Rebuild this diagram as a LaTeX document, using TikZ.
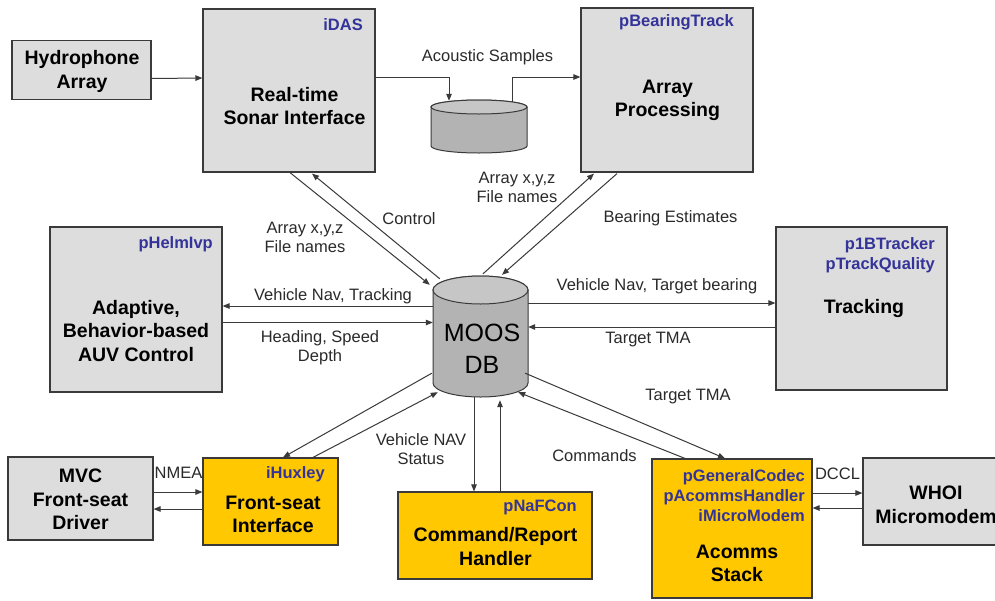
\documentclass[tikz,border=0pt]{standalone}
\usepackage{fontspec}
\setmainfont{Liberation Sans}
\usetikzlibrary{arrows.meta,calc}
\definecolor{boxgray}{HTML}{DDDDDD}
\definecolor{linegray}{HTML}{3A3A3A}
\definecolor{orangefill}{HTML}{FFC800}
\definecolor{tagblue}{HTML}{333399}
\definecolor{lbltext}{HTML}{2A2A2A}
\definecolor{cylbody}{HTML}{B3B3B3}
\definecolor{cyltop}{HTML}{C6C6C6}
\tikzset{
  gbox/.style={draw=linegray, fill=boxgray, line width=1.2pt, inner sep=0pt},
  obox/.style={draw=linegray, fill=orangefill, line width=1.2pt, inner sep=0pt},
  title/.style={font=\fontsize{19.5}{23.5}\selectfont\bfseries, align=center, inner sep=0pt, text=black},
  tag/.style={font=\fontsize{16.5}{20}\selectfont\bfseries, text=tagblue, align=right, anchor=east, inner sep=0pt},
  lbl/.style={font=\fontsize{16.5}{19}\selectfont, text=lbltext, align=center, inner sep=0pt},
  arr/.style={draw=linegray, line width=1pt, -{Triangle[length=7pt,width=5.5pt]}},
  cyl/.style={draw=linegray, line width=1pt},
  anchorbox/.style={inner sep=0pt, draw=none, fill=none}
}
\begin{document}
\begin{tikzpicture}[x=1pt,y=-1pt]
\useasboundingbox (0,0) rectangle (995,600);
\clip (0,0) rectangle (995,600);
\fill[white] (0,0) rectangle (995,600);

% boxes
\node[gbox, minimum width=139, minimum height=59] (hyd) at (81.5,70) {};
\node[title] (hydt) at (82,71.5) {Hydrophone\\Array};

\node[gbox, minimum width=172, minimum height=163] (idas) at (289,90.5) {};
\node[tag] (idastag) at (363,25) {iDAS};
\node[title] (idast) at (294.5,106) {Real-time\\Sonar Interface};

\node[gbox, minimum width=172, minimum height=164] (bear) at (667,90) {};
\node[tag] (beartag) at (734,22) {pBearingTrack};
\node[title] (beart) at (667.5,100.5) {Array\\Processing};

\node[gbox, minimum width=172, minimum height=165] (helm) at (136,309.5) {};
\node[tag] (helmtag) at (213,244) {pHelmIvp};
\node[title] (helmt) at (136,331) {Adaptive,\\Behavior-based\\AUV Control};

\node[gbox, minimum width=171, minimum height=163] (trk) at (861.5,308.5) {};
\node[tag] (trktag) at (935,255) {p1BTracker\\pTrackQuality};
\node[title] (trkt) at (864,308) {Tracking};

\node[gbox, minimum width=145, minimum height=83] (mvc) at (80.5,498.5) {};
\node[title] (mvct) at (80.5,499.5) {MVC\\Front-seat\\Driver};

\node[obox, minimum width=135, minimum height=87] (hux) at (270.5,501.5) {};
\node[tag] (huxtag) at (325,474) {iHuxley};
\node[title] (huxt) at (273,514.5) {Front-seat\\Interface};

\node[obox, minimum width=194, minimum height=87] (naf) at (495,535.5) {};
\node[tag] (naftag) at (577,507) {pNaFCon};
\node[title] (naft) at (495.5,546.5) {Command/Report\\Handler};

\node[obox, minimum width=160, minimum height=139] (ac) at (732,528.5) {};
\node[tag] (actag) at (805,496) {pGeneralCodec\\pAcommsHandler\\iMicroModem};
\node[title] (act) at (737,563.5) {Acomms\\Stack};

\node[gbox, minimum width=150, minimum height=87] (whoi) at (938,501.5) {};
\node[title] (whoit) at (936,505) {WHOI\\Micromodem};

% small disk (acoustic samples store)
\path[cyl, fill=cylbody] (431,107) -- (431,146)
  arc[start angle=180, end angle=360, x radius=48pt, y radius=7pt] -- (527,107)
  arc[start angle=0, end angle=180, x radius=48pt, y radius=7pt] -- cycle;
\path[cyl, fill=cyltop] (479,107) ellipse[x radius=48pt, y radius=7pt];
\node[anchorbox, minimum width=96, minimum height=52] (disk) at (479,127) {};

% MOOS DB cylinder
\path[cyl, fill=cylbody] (433,290) -- (433,383)
  arc[start angle=180, end angle=360, x radius=47.5pt, y radius=14pt] -- (528,290)
  arc[start angle=0, end angle=180, x radius=47.5pt, y radius=14pt] -- cycle;
\path[cyl, fill=cyltop] (480.5,290) ellipse[x radius=47.5pt, y radius=14pt];
\node[anchorbox, minimum width=95, minimum height=122] (moos) at (480.5,336) {};
\node[font=\fontsize{25}{32}\selectfont, align=center, inner sep=0pt, text=black] (moost) at (482,349) {MOOS\\DB};

% connectors
\draw[arr] ($(hyd.east)+(0,8.5)$) -- ($(idas.west)+(0,-12.5)$);
\draw[arr] ($(idas.east)+(0,-13.5)$) -| ($(disk.north)+(-30,0)$);
\draw[arr] ($(disk.north)+(33,1)$) |- ($(bear.west)+(0,-13)$);

\draw[arr] ($(idas.south)+(1,0)$) -- ($(moos.north west)+(-3,10)$);
\draw[arr] ($(moos.north west)+(7,4)$) -- ($(idas.south)+(23,1)$);

\draw[arr] ($(moos.north)+(2.5,-1)$) -- ($(bear.south)+(-73,1)$);
\draw[arr] ($(bear.south)+(-50,1)$) -- ($(moos.north)+(21.5,0)$);

\draw[arr] ($(moos.west)+(0,-30)$) -- ($(helm.east)+(0,-3.5)$);
\draw[arr] ($(helm.east)+(0,13)$) -- ($(moos.west)+(0,-13.5)$);

\draw[arr] ($(moos.east)+(0,-33)$) -- ($(trk.west)+(0,-5.5)$);
\draw[arr] ($(trk.west)+(0,18.5)$) -- ($(moos.east)+(0,-9)$);

\draw[arr] ($(moos.south west)+(-1,-24)$) -- ($(hux.north)+(12.5,0)$);
\draw[arr] ($(hux.north)+(42.5,0)$) -- ($(moos.south west)+(5,-5)$);

\draw[arr] ($(moos.south)+(-6.5,0)$) -- ($(naf.north)+(-21,0)$);
\draw[arr] ($(naf.north)+(5,0)$) -- ($(moos.south)+(19.5,3)$);

\draw[arr] ($(moos.south east)+(-3,-24)$) -- ($(ac.north)+(-7,0)$);
\draw[arr] ($(ac.north)+(-47,0)$) -- ($(moos.south east)+(-10,-5)$);

\draw[arr] ($(mvc.east)+(0,-6.5)$) -- ($(hux.west)+(0,-9.5)$);
\draw[arr] ($(hux.west)+(0,7.5)$) -- ($(mvc.east)+(0,10.5)$);

\draw[arr] ($(ac.east)+(0,-35.5)$) -- ($(whoi.west)+(0,-8.5)$);
\draw[arr] ($(whoi.west)+(0,6.5)$) -- ($(ac.east)+(0,-20.5)$);

% connector labels
\node[lbl] (l1) at (487.5,57.5) {Acoustic Samples};
\node[lbl] (l2) at (517,187.5) {Array x,y,z\\File names};
\node[lbl] (l3) at (670.5,218.5) {Bearing Estimates};
\node[lbl] (l4) at (409,219) {Control};
\node[lbl] (l5) at (305,237.5) {Array x,y,z\\File names};
\node[lbl] (l6) at (333,296) {Vehicle Nav, Tracking};
\node[lbl] (l7) at (320,347.5) {Heading, Speed\\Depth};
\node[lbl] (l8) at (657,286) {Vehicle Nav, Target bearing};
\node[lbl] (l9) at (648,340) {Target TMA};
\node[lbl] (l10) at (688,397) {Target TMA};
\node[lbl] (l11) at (421,449.5) {Vehicle NAV\\Status};
\node[lbl] (l12) at (594.5,456) {Commands};
\node[lbl] (l13) at (178.5,473) {NMEA};
\node[lbl] (l14) at (837.5,474) {DCCL};
\end{tikzpicture}
\end{document}
